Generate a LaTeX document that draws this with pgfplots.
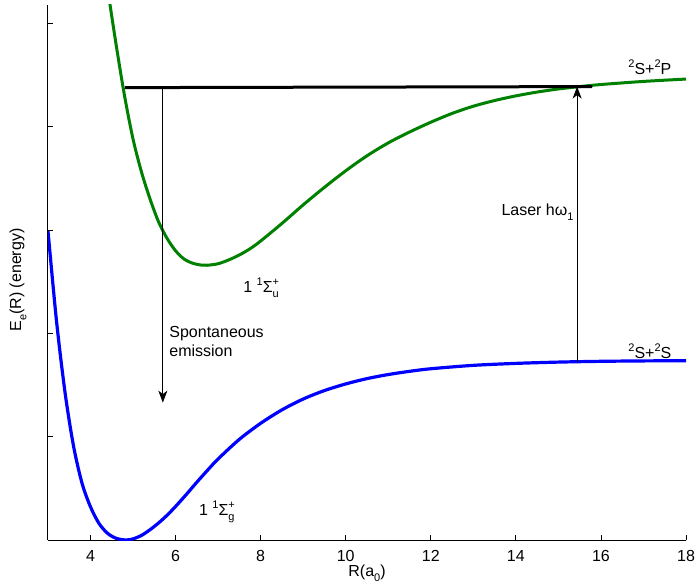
\documentclass[border=0pt]{standalone}
\usepackage{pgfplots}
\pgfplotsset{compat=1.18}
\usepackage{fontspec}
\setmainfont{Liberation Sans}
\usetikzlibrary{arrows.meta}
\definecolor{mygreen}{RGB}{0,128,0}
\newcommand\sups[1]{\raisebox{0.42em}{\fontsize{11}{11}\selectfont #1}}
\newcommand\subs[1]{\raisebox{-0.32em}{\fontsize{11}{11}\selectfont #1}}
\begin{document}
\fontsize{16}{19}\selectfont
\begin{tikzpicture}
\begin{axis}[
  scale only axis, width=638pt, height=535pt,
  xmin=3, xmax=18, ymin=0, ymax=5.18,
  axis lines*=left,
  axis line style={line width=1pt},
  tick align=inside, major tick length=5pt,
  tick style={black, line width=0.8pt},
  xtick={4,6,...,18}, ytick={1,2,3,4,5}, yticklabels={},
  /pgf/number format/assume math mode=true,
  ticklabel style={font=\fontsize{16}{19}\selectfont, inner sep=0pt},
  xticklabel style={yshift=-10pt},
  xlabel={R(a\subs{0})},
  xlabel style={at={(axis description cs:0.5,0)}, anchor=north, yshift=-25pt, inner sep=0pt},
  ylabel={E\subs{e}(R) (energy)},
  ylabel style={at={(axis description cs:-0.047,0.486)}, anchor=center, inner sep=0pt},
  every axis label/.append style={font=\fontsize{16}{19}\selectfont},
]
% blue: ground state 1 1Sigma_g+
\addplot[blue, line width=3.2pt, smooth] coordinates {
(3.0,2.99) (3.2,2.12) (3.4,1.43) (3.6,0.91) (3.8,0.55) (4.0,0.32) (4.2,0.16)
(4.4,0.065) (4.6,0.017) (4.83,0) (5.0,0.011) (5.2,0.045) (5.4,0.10) (5.6,0.165)
(5.8,0.24) (6.0,0.325) (6.25,0.44) (6.5,0.56) (6.75,0.675) (7.0,0.785) (7.5,0.975)
(8.0,1.13) (8.5,1.26) (9.0,1.365) (9.5,1.447) (10,1.511) (10.5,1.5625) (11,1.602)
(11.5,1.633) (12,1.658) (13,1.691) (14,1.71) (15,1.7225) (16,1.73) (17,1.734) (18,1.736)
};
% green: excited state 1 1Sigma_u+
\addplot[mygreen, line width=3pt, smooth] coordinates {
(4.43,5.26) (4.6,4.80) (4.8,4.30) (5.0,3.88) (5.2,3.56) (5.4,3.30) (5.6,3.08)
(5.8,2.92) (6.0,2.80) (6.2,2.72) (6.4,2.68) (6.6,2.662) (6.74,2.66) (7.0,2.675)
(7.25,2.712) (7.5,2.76) (7.75,2.82) (8.0,2.895) (8.5,3.065) (9.0,3.245) (9.5,3.415)
(10.0,3.575) (10.5,3.72) (11.0,3.845) (11.5,3.95) (12.0,4.045) (12.5,4.13) (13.0,4.20)
(13.5,4.255) (14.0,4.30) (14.5,4.337) (15.0,4.367) (15.5,4.39) (16.0,4.41) (17.0,4.44) (18.0,4.463)
};
% black horizontal level
\addplot[black, line width=3pt] coordinates {(4.81,4.38) (15.79,4.39)};
% spontaneous emission arrow
\addplot[black, line width=0.8pt, -{Stealth[length=12pt,width=9pt,inset=3.5pt]}] coordinates {(5.70,4.38) (5.70,1.33)};
% laser arrow
\addplot[black, line width=0.8pt, -{Stealth[length=12pt,width=9pt,inset=3.5pt]}] coordinates {(15.44,1.72) (15.44,4.39)};
\node[anchor=center] at (axis cs:8.01,2.44) {1 \sups{1}Σ\rlap{\sups{+}}\subs{u}};
\node[anchor=center] at (axis cs:6.97,0.27) {1 \sups{1}Σ\rlap{\sups{+}}\subs{g}};
\node[anchor=west, align=left, inner sep=0pt] at (axis cs:5.85,1.92) {Spontaneous\\emission};
\node[anchor=east, inner sep=0pt] at (axis cs:15.36,3.17) {Laser hω\subs{1}};
\node[anchor=center, inner sep=0pt] at (axis cs:17.15,4.58) {\sups{2}S+\sups{2}P};
\node[anchor=center, inner sep=0pt] at (axis cs:17.15,1.83) {\sups{2}S+\sups{2}S};
\end{axis}
\path ([shift={(-48pt,-47pt)}]current axis.south west) rectangle ([shift={(10pt,5pt)}]current axis.north east);
\end{tikzpicture}
\end{document}
